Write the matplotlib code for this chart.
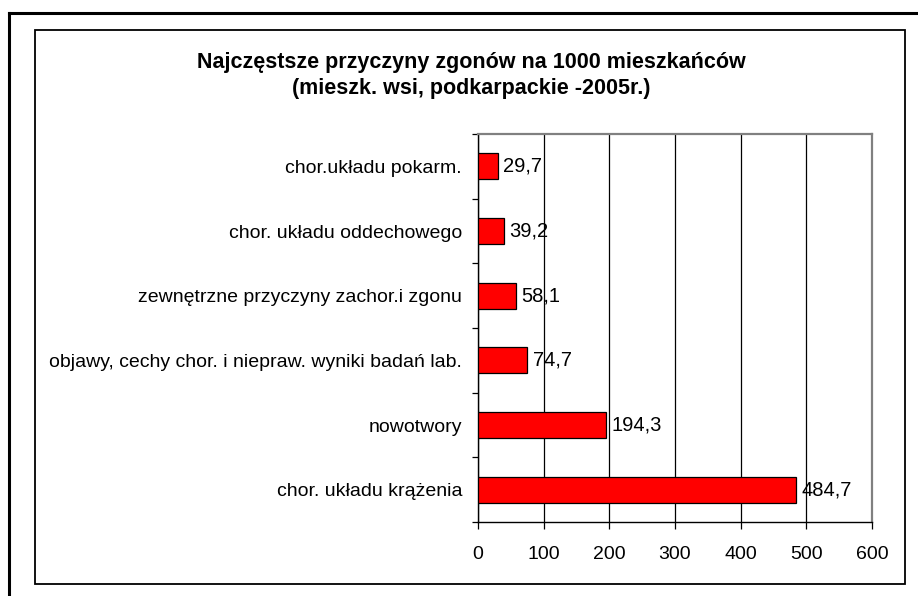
import matplotlib
matplotlib.use("Agg")
import matplotlib.pyplot as plt
from matplotlib.lines import Line2D
from matplotlib.patches import Rectangle
import numpy as np

plt.rcParams['font.family'] = ['Liberation Sans', 'DejaVu Sans']

categories = [
    "chor. układu krążenia",
    "nowotwory",
    "objawy, cechy chor. i niepraw. wyniki badań lab.",
    "zewnętrzne przyczyny zachor.i zgonu",
    "chor. układu oddechowego",
    "chor.układu pokarm.",
]
values = [484.7, 194.3, 74.7, 58.1, 39.2, 29.7]
value_labels = ["484,7", "194,3", "74,7", "58,1", "39,2", "29,7"]
x_ticks = [0, 100, 200, 300, 400, 500, 600]
title_lines = ["Najczęstsze przyczyny zgonów na 1000 mieszkańców",
               "(mieszk. wsi, podkarpackie -2005r.)"]

W, H = 918, 596
fig = plt.figure(figsize=(W / 100, H / 100), dpi=100)

def fx(px):
    return px / W

def fy(py):
    return 1 - py / H

# outer partial frame (top and left)
fig.add_artist(Line2D([fx(9), fx(918)], [fy(13), fy(13)], color='black', lw=2.2))
fig.add_artist(Line2D([fx(9), fx(9)], [fy(13), fy(596)], color='black', lw=2.2))
# inner chart box
fig.add_artist(Rectangle((fx(35), fy(584)), fx(905) - fx(35), fy(30) - fy(584),
                         fill=False, edgecolor='black', lw=1.3))

ax = fig.add_axes([fx(478), fy(522), fx(872) - fx(478), fy(134) - fy(522)])
y = np.arange(len(categories))
ax.barh(y, values, height=0.4, color='#FF0000', edgecolor='black', linewidth=0.9, zorder=3)
for yi, v, lab in zip(y, values, value_labels):
    ax.annotate(lab, (v, yi), xytext=(4, 0), textcoords='offset points',
                ha='left', va='center', fontsize=14.5, color='black', zorder=4)

ax.set_xlim(0, 600)
ax.set_ylim(-0.5, len(categories) - 0.5)
ax.set_xticks(x_ticks)
ax.set_xticklabels([str(t) for t in x_ticks], fontsize=14)
ax.set_yticks(y)
ax.set_yticklabels(categories, fontsize=14)
ax.set_yticks(np.arange(-0.5, len(categories), 1.0), minor=True)
ax.tick_params(axis='y', which='major', length=0, pad=11.5)
ax.tick_params(axis='y', which='minor', length=4.5, width=0.9, color='black')
ax.tick_params(axis='x', which='major', length=5, width=0.9, color='black', pad=12.5)
ax.xaxis.grid(True, color='black', lw=0.9, zorder=1)
ax.set_axisbelow(True)
for s in ['left', 'bottom']:
    ax.spines[s].set_color('black')
    ax.spines[s].set_linewidth(1.0)
for s in ['top', 'right']:
    ax.spines[s].set_color('#808080')
    ax.spines[s].set_linewidth(1.6)

cx = fx(471.5)
fig.text(cx, fy(68), title_lines[0], ha='center', va='baseline', fontsize=15.5, fontweight='bold')
fig.text(cx, fy(94), title_lines[1], ha='center', va='baseline', fontsize=15.5, fontweight='bold')

fig.savefig("out.png", dpi=100)
